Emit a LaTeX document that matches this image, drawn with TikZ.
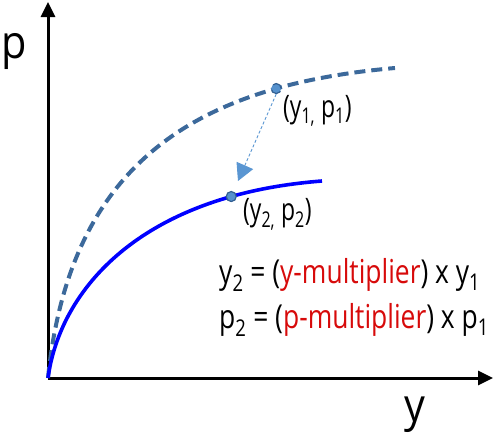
\documentclass[tikz,border=0pt]{standalone}
\usepackage{fontspec}
\setmainfont[FakeStretch=0.9]{Open Sans}
\newfontfamily\lblfont[FakeStretch=0.74]{Open Sans}
\newfontfamily\eqfont[FakeStretch=0.8]{Open Sans}
\usetikzlibrary{arrows.meta}
\definecolor{dashblue}{RGB}{60,105,155}
\definecolor{dotfill}{RGB}{85,145,205}
\definecolor{dotedge}{RGB}{50,95,145}
\definecolor{arrowblue}{RGB}{90,150,210}
\definecolor{multred}{RGB}{215,10,10}
\tikzset{
  axis/.style={line width=3pt,-{Triangle[length=15pt,width=14pt]}},
  dot/.style={circle,fill=dotfill,draw=dotedge,line width=1.2pt,inner sep=0pt,minimum size=10pt},
  lbl/.style={font=\lblfont\fontsize{31}{34}\selectfont,inner sep=0pt},
  eq/.style={font=\eqfont\fontsize{33}{38}\selectfont,inner sep=0pt},
  axlbl/.style={font=\fontsize{46}{50}\selectfont,inner sep=0pt}
}
\begin{document}
\begin{tikzpicture}[x=1pt,y=-1pt]
\useasboundingbox (0,0) rectangle (499,442);
\coordinate (O) at (48,378);
\coordinate (ytop) at (48,2);
\coordinate (xend) at (493,378);
\draw[axis] (O) -- (ytop);
\draw[axis] (O) -- (xend);
\node[axlbl,anchor=base] (plbl) at (14,58) {p};
\node[axlbl,anchor=base] (ylbl) at (415,421) {y};
\draw[dashblue,line width=4pt,dash pattern=on 11pt off 6pt]
  (O) .. controls (70,160) and (200,85) .. (395,68)
  node[pos=0.78,dot] (p1) {};
\draw[blue,line width=3.6pt]
  (O) .. controls (60,290) and (140,195) .. (322,181)
  node[pos=0.815,dot] (p2) {};
\coordinate (atip) at (238,181);
\draw[arrowblue,line width=0.9pt,dash pattern=on 3pt off 2pt,-{Triangle[length=17pt,width=18pt]}]
  (p1.south) -- (atip);
\node[lbl,anchor=base west] (l1) at (283,117) {(y\textsubscript{1,} p\textsubscript{1})};
\node[lbl,anchor=base west] (l2) at (243,220) {(y\textsubscript{2,} p\textsubscript{2})};
\node[eq,anchor=base west] (e1) at (219,283) {y\textsubscript{2} = (\textcolor{multred}{y-multiplier}) x y\textsubscript{1}};
\node[eq,anchor=base west] (e2) at (219,328) {p\textsubscript{2} = (\textcolor{multred}{p-multiplier}) x p\textsubscript{1}};
\end{tikzpicture}
\end{document}
